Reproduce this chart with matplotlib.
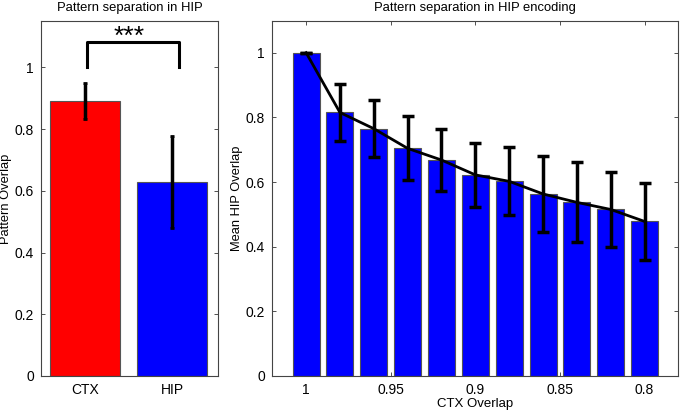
import matplotlib
matplotlib.use("Agg")
import matplotlib.pyplot as plt
import numpy as np

plt.rcParams['font.family'] = ['Liberation Sans', 'DejaVu Sans']

# Left panel data
groups = ["CTX", "HIP"]
group_means = [0.891, 0.629]
group_err = [0.059, 0.150]
group_colors = ["#ff0000", "#0000ff"]

# Right panel data
ctx_overlap = [1.00, 0.98, 0.96, 0.94, 0.92, 0.90, 0.88, 0.86, 0.84, 0.82, 0.80]
hip_means = [1.000, 0.815, 0.765, 0.704, 0.668, 0.622, 0.602, 0.563, 0.537, 0.515, 0.478]
hip_err = [0.0, 0.087, 0.089, 0.099, 0.095, 0.099, 0.105, 0.117, 0.124, 0.116, 0.118]
xticks_right = [1.0, 0.95, 0.9, 0.85, 0.8]
xticklabels_right = ["1", "0.95", "0.9", "0.85", "0.8"]
yticks = [0, 0.2, 0.4, 0.6, 0.8, 1.0]
yticklabels = ["0", "0.2", "0.4", "0.6", "0.8", "1"]

fig = plt.figure(figsize=(6.8, 4.11), dpi=100)
ax1 = fig.add_axes([0.0603, 0.0852, 0.2603, 0.8637])
ax2 = fig.add_axes([0.3996, 0.0852, 0.5974, 0.8637])

def style(ax):
    ax.tick_params(direction='in', top=True, right=True, labelsize=10, length=3,
                   width=0.6, color='#333333', pad=5)
    for s in ax.spines.values():
        s.set_linewidth(0.8)
        s.set_color('#444444')

# Left
xpos = [1, 2]
ax1.bar(xpos, group_means, width=0.8, color=group_colors, edgecolor='#555555', linewidth=0.8, zorder=2)
ax1.errorbar(xpos, group_means, yerr=group_err, fmt='none', ecolor='black', elinewidth=2.5, capsize=1.5, capthick=2, zorder=3)
ax1.set_xlim(0.5, 2.52)
ax1.set_ylim(0, 1.15)
ax1.set_xticks(xpos)
ax1.set_xticklabels(groups)
ax1.set_yticks(yticks)
ax1.set_yticklabels(yticklabels)
ax1.set_ylabel("Pattern Overlap", fontsize=9.3)
ax1.yaxis.set_label_coords(-0.164, 0.5)
ax1.set_title("Pattern separation in HIP", fontsize=9.4, pad=7)
ax1.plot([1.03, 1.03, 2.07, 2.07], [1.0, 1.083, 1.083, 1.0], color='black', lw=2.2, zorder=4)
ax1.text(1.5, 1.075, "***", ha='center', va='baseline', fontsize=19)
style(ax1)
ax1.tick_params(axis='x', top=False)

# Right
ax2.bar(ctx_overlap, hip_means, width=0.016, color='#0000ff', edgecolor='#555555', linewidth=0.8, zorder=2)
ax2.errorbar(ctx_overlap, hip_means, yerr=hip_err, fmt='none', ecolor='black', elinewidth=2.5, capsize=4, capthick=2.5, zorder=3)
ax2.plot(ctx_overlap, hip_means, color='black', lw=2, zorder=4)
ax2.set_xlim(1.0203, 0.7803)
ax2.set_ylim(0, 1.098)
ax2.set_xticks(xticks_right)
ax2.set_xticklabels(xticklabels_right)
ax2.set_yticks(yticks)
ax2.set_yticklabels(yticklabels)
ax2.set_xlabel("CTX Overlap", fontsize=9.5, labelpad=1)
ax2.set_ylabel("Mean HIP Overlap", fontsize=9.3)
ax2.yaxis.set_label_coords(-0.0706, 0.5)
ax2.set_title("Pattern separation in HIP encoding", fontsize=9.4, pad=7)
style(ax2)

fig.savefig("out.png", dpi=100)
